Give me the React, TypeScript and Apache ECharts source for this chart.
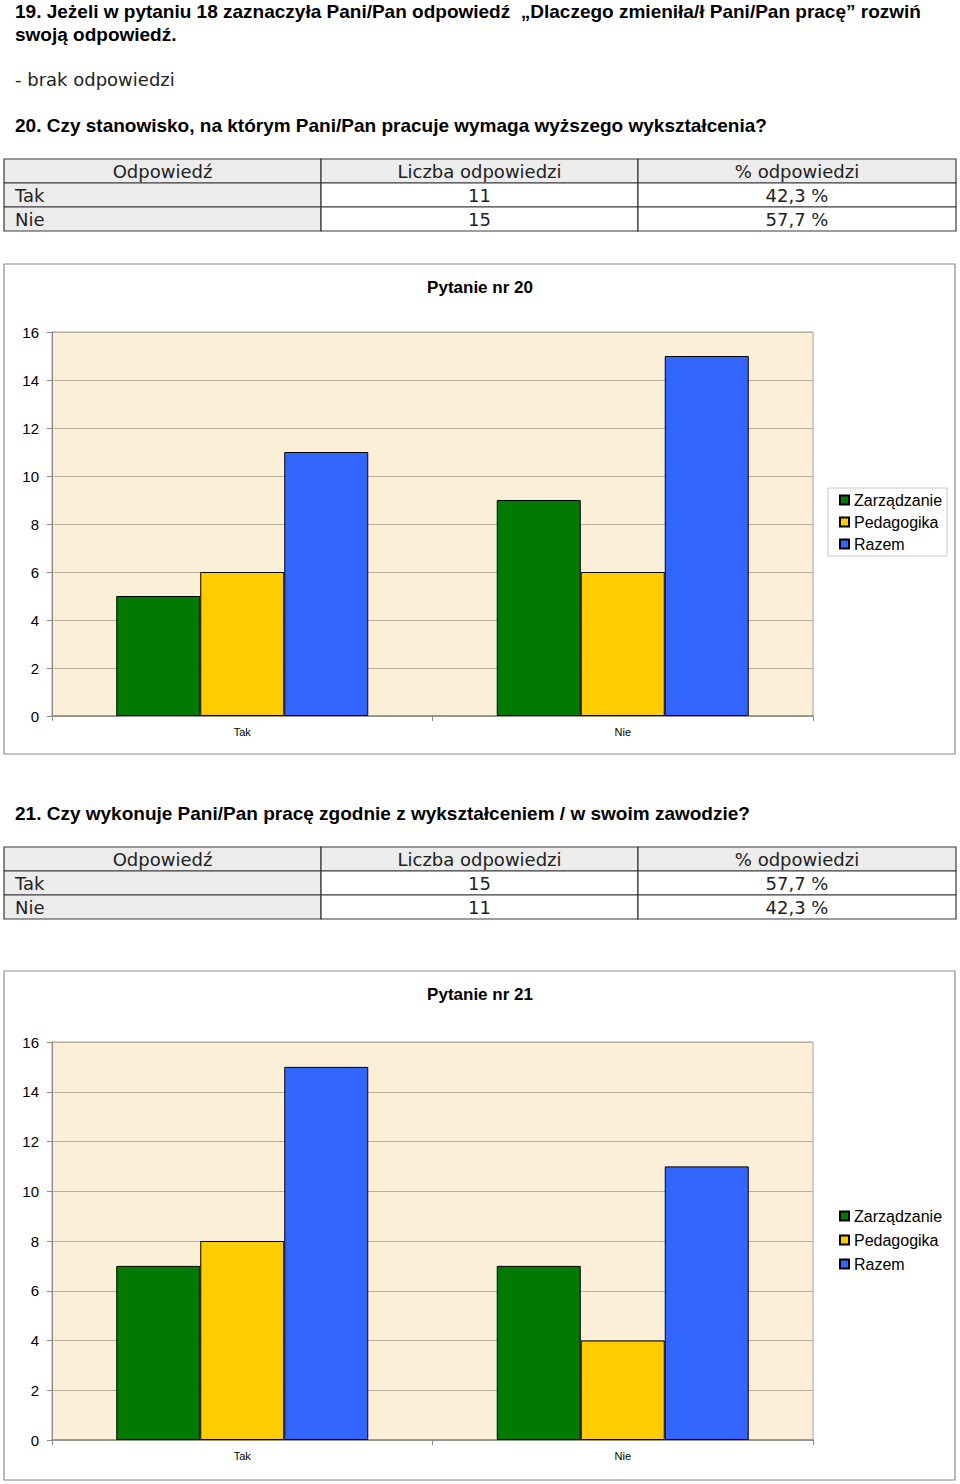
import React, { useEffect, useRef } from "react";
import * as echarts from "echarts";

// ---- data ----
const categories = ["Tak", "Nie"];
const seriesNames = ["Zarządzanie", "Pedagogika", "Razem"];
const seriesColors = ["#007a00", "#ffcc00", "#3366ff"];

const q20Zarzadzanie = [5, 9];
const q20Pedagogika = [6, 6];
const q20Razem = [11, 15];

const q21Zarzadzanie = [7, 7];
const q21Pedagogika = [8, 4];
const q21Razem = [15, 11];

const tableHeaders = ["Odpowiedź", "Liczba odpowiedzi", "% odpowiedzi"];
const q20Counts = ["11", "15"];
const q20Percents = ["42,3 %", "57,7 %"];
const q21Counts = ["15", "11"];
const q21Percents = ["57,7 %", "42,3 %"];

const yMin = 0;
const yMax = 16;
const yInterval = 2;

const heading19a =
  "19. Jeżeli w pytaniu 18 zaznaczyła Pani/Pan odpowiedź  „Dlaczego zmieniła/ł Pani/Pan pracę” rozwiń";
const heading19b = "swoją odpowiedź.";
const answer19 = "- brak odpowiedzi";
const heading20 = "20. Czy stanowisko, na którym Pani/Pan pracuje wymaga wyższego wykształcenia?";
const heading21 = "21. Czy wykonuje Pani/Pan pracę zgodnie z wykształceniem / w swoim zawodzie?";
const title20 = "Pytanie nr 20";
const title21 = "Pytanie nr 21";

const HEAD_FONT = '"Liberation Sans", Arial, sans-serif';
const BODY_FONT = '"DejaVu Sans", sans-serif';
const CHART_FONT = '"Liberation Sans", Arial, sans-serif';

function txt(text: string, x: number, y: number, opts: any = {}) {
  return {
    type: "text",
    x,
    y,
    silent: true,
    style: {
      text,
      fill: opts.fill || "#000",
      fontSize: opts.fontSize || 19,
      fontFamily: opts.fontFamily || HEAD_FONT,
      fontWeight: opts.fontWeight || "normal",
      textAlign: opts.align || "left",
      align: opts.align || "left",
      textVerticalAlign: "middle",
      verticalAlign: "middle",
    },
  };
}

function table(top: number, counts: string[], percents: string[]) {
  const cols = [4, 321, 638, 956];
  const rowH = 24;
  const els: any[] = [];
  const rows = [tableHeaders, [categories[0], counts[0], percents[0]], [categories[1], counts[1], percents[1]]];
  rows.forEach((row, r) => {
    for (let c = 0; c < 3; c++) {
      const gray = r === 0 || c === 0;
      els.push({
        type: "rect",
        silent: true,
        shape: { x: cols[c], y: top + r * rowH, width: cols[c + 1] - cols[c], height: rowH },
        style: { fill: gray ? "#ececec" : "#ffffff", stroke: "#3a3a3a", lineWidth: 1.2 },
      });
      const cy = top + r * rowH + rowH / 2 + 0.5;
      if (r > 0 && c === 0) {
        els.push(txt(row[c], 15, cy, { fontFamily: BODY_FONT, fontSize: 18, fill: "#222" }));
      } else {
        els.push(
          txt(row[c], (cols[c] + cols[c + 1]) / 2, cy, {
            fontFamily: BODY_FONT,
            fontSize: 18,
            fill: "#222",
            align: "center",
          })
        );
      }
    }
  });
  return els;
}

function barSeries(name: string, data: number[], color: string, idx: number) {
  return {
    type: "bar",
    name,
    data,
    xAxisIndex: idx,
    yAxisIndex: idx,
    barWidth: 84,
    barGap: "0%",
    itemStyle: { color, borderColor: "#000", borderWidth: 1 },
  };
}

function axes(idx: number) {
  const x = {
    type: "category",
    gridIndex: idx,
    data: categories,
    axisLine: { lineStyle: { color: "#8a8a8a", width: 1.5 } },
    axisTick: { show: true, length: 5, lineStyle: { color: "#8a8a8a" } },
    axisLabel: { fontSize: 11, fontFamily: CHART_FONT, color: "#000", margin: 10 },
  };
  const y = {
    type: "value",
    gridIndex: idx,
    min: yMin,
    max: yMax,
    interval: yInterval,
    axisLine: { show: true, lineStyle: { color: "#8a8a8a" } },
    axisTick: { show: true, length: 5, lineStyle: { color: "#8a8a8a" } },
    axisLabel: { fontSize: 15, fontFamily: CHART_FONT, color: "#000", margin: 13 },
    splitLine: { lineStyle: { color: "#b8ae9c", width: 1 } },
  };
  return { x, y };
}

export default function App() {
  const ref = useRef<HTMLDivElement>(null);
  useEffect(() => {
    if (!ref.current) return;
    const chart = echarts.init(ref.current, null, { renderer: "svg" });
    const a0 = axes(0);
    const a1 = axes(1);
    const legendBase = {
      orient: "vertical",
      left: 828,
      icon: "rect",
      itemWidth: 9,
      itemHeight: 9,
      textStyle: { fontSize: 16, fontFamily: CHART_FONT, color: "#000" },
      data: seriesNames,
      selectedMode: false,
    };
    const option: any = {
      animation: false,
      backgroundColor: "#ffffff",
      grid: [
        {
          left: 52,
          top: 332,
          width: 761,
          height: 384,
          show: true,
          backgroundColor: "#fcefd8",
          borderColor: "#a8a49c",
          borderWidth: 1,
        },
        {
          left: 52,
          top: 1042,
          width: 761,
          height: 398,
          show: true,
          backgroundColor: "#fcefd8",
          borderColor: "#a8a49c",
          borderWidth: 1,
        },
      ],
      xAxis: [a0.x, a1.x],
      yAxis: [a0.y, a1.y],
      legend: [
        {
          ...legendBase,
          top: 488,
          itemGap: 6,
          padding: [4, 5, 4, 11],
          borderColor: "#c8c8c8",
          borderWidth: 1,
        },
        {
          ...legendBase,
          top: 1203,
          itemGap: 8,
          padding: [5, 5, 5, 11],
        },
      ],
      series: [
        barSeries(seriesNames[0], q20Zarzadzanie, seriesColors[0], 0),
        barSeries(seriesNames[1], q20Pedagogika, seriesColors[1], 0),
        barSeries(seriesNames[2], q20Razem, seriesColors[2], 0),
        barSeries(seriesNames[0], q21Zarzadzanie, seriesColors[0], 1),
        barSeries(seriesNames[1], q21Pedagogika, seriesColors[1], 1),
        barSeries(seriesNames[2], q21Razem, seriesColors[2], 1),
      ],
      graphic: [
        txt(heading19a, 15, 11, { fontWeight: "bold" }),
        txt(heading19b, 15, 34, { fontWeight: "bold" }),
        txt(answer19, 15, 79, { fontFamily: BODY_FONT, fontSize: 18, fill: "#222" }),
        txt(heading20, 15, 125, { fontWeight: "bold" }),
        ...table(159, q20Counts, q20Percents),
        {
          type: "rect",
          silent: true,
          shape: { x: 4, y: 264, width: 951, height: 490 },
          style: { fill: "none", stroke: "#8c8c8c", lineWidth: 1.2 },
        },
        txt(title20, 480, 287, { fontWeight: "bold", fontSize: 17, fontFamily: CHART_FONT, align: "center" }),
        txt(heading21, 15, 813, { fontWeight: "bold" }),
        ...table(847, q21Counts, q21Percents),
        {
          type: "rect",
          silent: true,
          shape: { x: 4, y: 971, width: 951, height: 509 },
          style: { fill: "none", stroke: "#8c8c8c", lineWidth: 1.2 },
        },
        txt(title21, 480, 994, { fontWeight: "bold", fontSize: 17, fontFamily: CHART_FONT, align: "center" }),
      ],
    };
    chart.setOption(option);
    return () => chart.dispose();
  }, []);
  return (
    <div
      ref={ref}
      style={{ position: "absolute", left: 0, top: 0, width: 960, height: 1484, background: "#fff" }}
    />
  );
}
